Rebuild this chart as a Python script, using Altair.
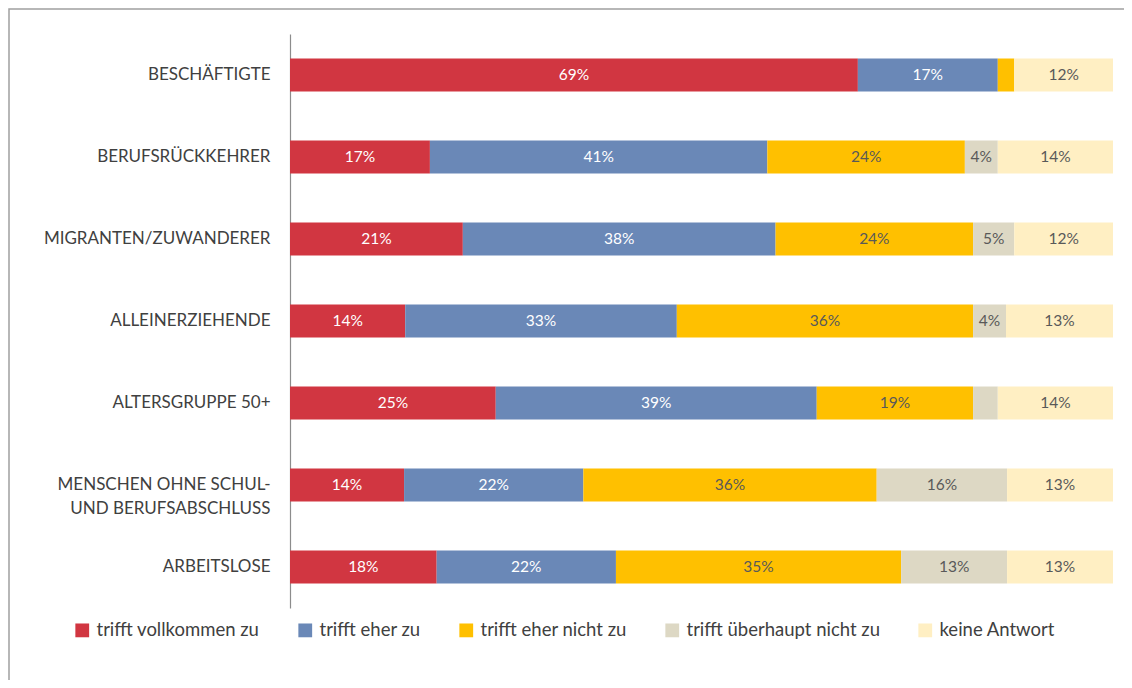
import altair as alt
import pandas as pd

categories = [
    "BESCHÄFTIGTE",
    "BERUFSRÜCKKEHRER",
    "MIGRANTEN/ZUWANDERER",
    "ALLEINERZIEHENDE",
    "ALTERSGRUPPE 50+",
    "MENSCHEN OHNE SCHUL-\nUND BERUFSABSCHLUSS",
    "ARBEITSLOSE",
]
series = [
    "trifft vollkommen zu",
    "trifft eher zu",
    "trifft eher nicht zu",
    "trifft überhaupt nicht zu",
    "keine Antwort",
]
colors = ["#D13641", "#6A88B7", "#FFC000", "#DDD8C4", "#FFEFC3"]
text_colors = ["#FFFFFF", "#FFFFFF", "#595959", "#595959", "#595959"]

vollkommen = [69, 17, 21, 14, 25, 14, 18]
eher = [17, 41, 38, 33, 39, 22, 22]
eher_nicht = [2, 24, 24, 36, 19, 36, 35]
ueberhaupt_nicht = [0, 4, 5, 4, 3, 16, 13]
keine = [12, 14, 12, 13, 14, 13, 13]

values = [vollkommen, eher, eher_nicht, ueberhaupt_nicht, keine]

rows = []
for si, s in enumerate(series):
    for ci, c in enumerate(categories):
        rows.append({"cat": c, "series": s, "order": si, "value": values[si][ci],
                     "tcolor": text_colors[si]})
df = pd.DataFrame(rows)

W, H = 823, 574

base = alt.Chart(df).transform_stack(
    stack="value", groupby=["cat"], as_=["x0", "x1"], offset="normalize",
    sort=[alt.SortField("order", order="ascending")],
).transform_calculate(mid="(datum.x0 + datum.x1) / 2")

y_enc = alt.Y("cat:N", sort=categories, title=None,
              scale=alt.Scale(paddingInner=0.6, paddingOuter=0.3),
              axis=alt.Axis(labelExpr="split(datum.label, '\\n')", ticks=False,
                            domain=True, domainColor="#8C8C8C", domainWidth=1.2,
                            labelPadding=20, labelFontSize=17, labelColor="#404040",
                            labelFont="Lato", labelLineHeight=24, labelLimit=300,
                            grid=False))

bars = base.mark_bar(size=33).encode(
    x=alt.X("x0:Q", scale=alt.Scale(domain=[0, 1], nice=False), axis=None),
    x2="x1:Q",
    y=y_enc,
    color=alt.Color("series:N", sort=series,
                    scale=alt.Scale(domain=series, range=colors),
                    legend=alt.Legend(title=None, orient="none", direction="horizontal",
                                      legendX=-217, legendY=587,
                                      symbolType="square", symbolSize=190,
                                      symbolStrokeWidth=0, labelFontSize=18.5,
                                      labelFont="Lato", labelColor="#404040",
                                      labelLimit=400,
                                      columnPadding=36, labelOffset=5)),
)

labels = base.transform_filter("datum.value >= 4").mark_text(
    fontSize=15.5, font="Lato", baseline="middle", align="center"
).encode(
    x=alt.X("mid:Q", scale=alt.Scale(domain=[0, 1], nice=False)),
    y=alt.Y("cat:N", sort=categories),
    text=alt.Text("label:N"),
    color=alt.Color("tcolor:N", scale=None, legend=None),
).transform_calculate(label="datum.value + '%'")

frame = alt.Chart(pd.DataFrame({"a": [0]})).mark_rect(
    fill=None, stroke="#A0A0A0", strokeWidth=1.5
).encode(x=alt.value(-281), x2=alt.value(W + 40), y=alt.value(-25), y2=alt.value(H + 120))

chart = alt.layer(frame, bars, labels).properties(
    width=W, height=H,
    padding={"left": 282, "top": 26, "right": 11, "bottom": 72},
    autosize=alt.AutoSizeParams(type="none"),
).resolve_scale(color="independent").configure_view(stroke=None)

chart.save("out.html", embed_options={"renderer": "svg", "actions": False})
